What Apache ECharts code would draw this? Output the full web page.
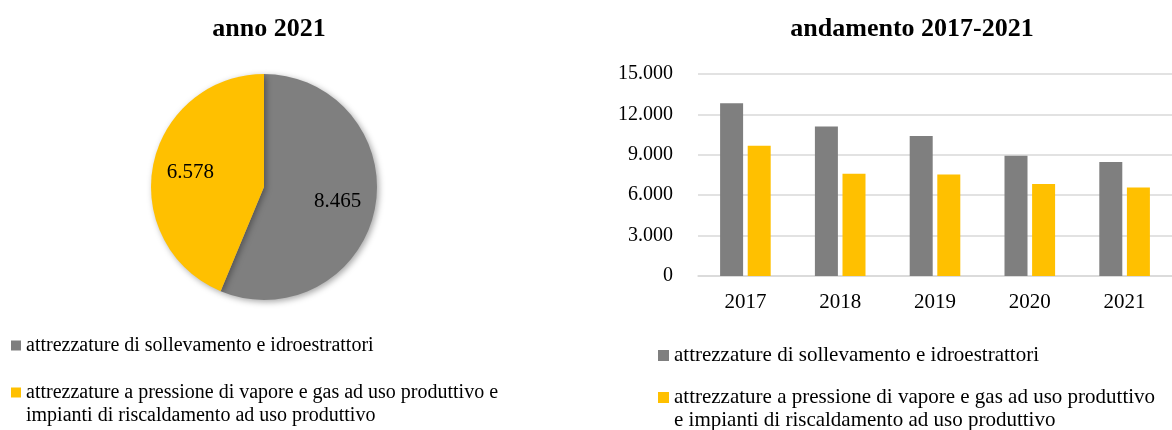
<!DOCTYPE html>
<html>
<head>
<meta charset="utf-8">
<script src="https://cdn.jsdelivr.net/npm/echarts@6/dist/echarts.min.js"></script>
<style>
  html, body { margin: 0; padding: 0; background: #fff; }
  #chart { width: 1172px; height: 430px; }
</style>
</head>
<body>
<div id="chart"></div>
<script>
// == Data ====================================================================

const years = ['2017', '2018', '2019', '2020', '2021']
const nameLift = 'attrezzature di sollevamento e idroestrattori'
const namePress = 'attrezzature a pressione di vapore e gas ad uso produttivo e impianti di riscaldamento ad uso produttivo'
const liftValues = [12820, 11110, 10390, 8930, 8465]
const pressValues = [9670, 7590, 7540, 6840, 6578]
const pieValues = [8465, 6578]
const yMax = 15000
const yStep = 3000

// == Style ===================================================================

const GRAY = '#7f7f7f'
const GOLD = '#ffc000'
const FONT = 'Liberation Serif'

function fmt (v) {
  return String(v).replace(/\B(?=(\d{3})+(?!\d))/g, '.')
}

const pieData = [
  {name: nameLift, value: pieValues[0], itemStyle: {color: GRAY}},
  {name: namePress, value: pieValues[1], itemStyle: {color: GOLD}}
]

// one legend per entry so each can sit where the reference puts it;
// wrapped names get a blank first line so the icon lines up with line one
function legendItem (name, left, top, size, fontSize, wrapAt) {
  const multi = wrapAt !== null
  return {
    data: [name],
    orient: 'vertical',
    left: left,
    top: top,
    padding: 0,
    icon: 'rect',
    itemWidth: size,
    itemHeight: size,
    itemGap: 0,
    selectedMode: false,
    formatter: (n) => multi ? ' \n' + n.slice(0, wrapAt).trim() + '\n' + n.slice(wrapAt).trim() : n,
    textStyle: {
      fontFamily: FONT,
      fontSize: fontSize,
      color: '#000',
      lineHeight: 23
    }
  }
}

const cutLeft = namePress.indexOf('impianti')
const cutRight = namePress.indexOf('e impianti')

const option = {
  animation: false,
  backgroundColor: '#fff',
  title: [
    {
      text: 'anno 2021', left: 264, top: 11, textAlign: 'center',
      textStyle: {fontFamily: FONT, fontSize: 26, fontWeight: 'bold', color: '#000'}
    },
    {
      text: 'andamento 2017-2021', left: 907, top: 11, textAlign: 'center',
      textStyle: {fontFamily: FONT, fontSize: 26, fontWeight: 'bold', color: '#000'}
    }
  ],
  legend: [
    legendItem(nameLift, 11, 334, 10, 20, null),
    legendItem(namePress, 11, 358, 10, 20, cutLeft),
    legendItem(nameLift, 658, 344, 11, 21, null),
    legendItem(namePress, 658, 363, 11, 21, cutRight)
  ],
  grid: {left: 698, right: -6, top: 74, bottom: 154},
  xAxis: {
    type: 'category',
    data: years,
    axisTick: {show: false},
    axisLine: {lineStyle: {color: '#d9d9d9', width: 1.5}},
    axisLabel: {fontFamily: FONT, fontSize: 21, color: '#000', margin: 16}
  },
  yAxis: {
    type: 'value',
    min: 0,
    max: yMax,
    interval: yStep,
    axisLine: {show: false},
    axisTick: {show: false},
    splitLine: {lineStyle: {color: '#d9d9d9', width: 1.5}},
    axisLabel: {fontFamily: FONT, fontSize: 20, color: '#000', margin: 25, formatter: fmt}
  },
  series: [
    {
      type: 'pie',
      center: [264, 187],
      radius: 113,
      startAngle: 90,
      clockwise: true,
      data: pieData,
      label: {show: false},
      labelLine: {show: false},
      itemStyle: {shadowBlur: 6, shadowColor: 'rgba(0,0,0,0.35)', shadowOffsetX: 2, shadowOffsetY: 2}
    },
    {
      // transparent copy carrying the in-slice value labels
      type: 'pie',
      center: [264, 187],
      radius: [31, 113],
      startAngle: 90,
      clockwise: true,
      silent: true,
      data: pieData.map((d) => ({name: d.name, value: d.value})),
      itemStyle: {color: 'rgba(0,0,0,0)'},
      label: {
        show: true,
        position: 'inside',
        fontFamily: FONT,
        fontSize: 21,
        color: '#000',
        formatter: (p) => fmt(p.value)
      },
      labelLine: {show: false}
    },
    {
      name: nameLift,
      type: 'bar',
      data: liftValues,
      barWidth: 23,
      barGap: '20%',
      itemStyle: {color: GRAY}
    },
    {
      name: namePress,
      type: 'bar',
      data: pressValues,
      barWidth: 23,
      barGap: '20%',
      itemStyle: {color: GOLD}
    }
  ]
}

const chart = echarts.init(document.getElementById('chart'), null, {renderer: 'canvas'})
chart.setOption(option)
</script>
</body>
</html>
